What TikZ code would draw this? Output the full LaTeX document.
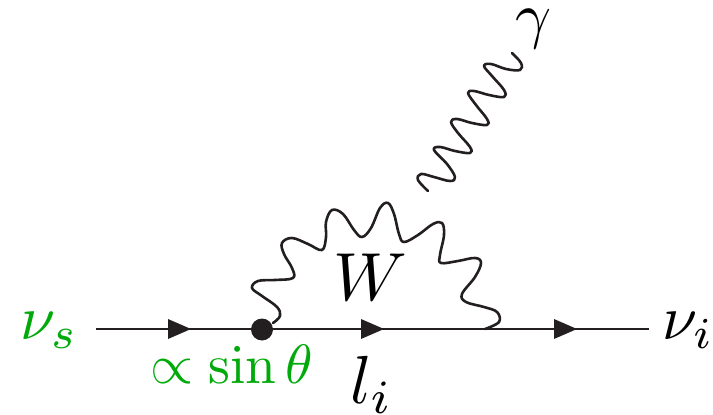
\documentclass[tikz,border=0pt]{standalone}
\usepackage{amsmath}
\definecolor{lblgreen}{RGB}{0,170,10}
\definecolor{ink}{RGB}{35,31,32}
\tikzset{
  fermion/.style={draw=ink,line width=2.6pt},
  arrowmark/.style={fill=ink,draw=none},
  wiggle/.style={draw=ink,line width=2.6pt,line join=round,line cap=round},
  biglabel/.style={inner sep=0pt,outer sep=0pt,scale=6.3},
  greenlabel/.style={biglabel,text=lblgreen},
}
\begin{document}
\begin{tikzpicture}[x=1pt,y=-1pt]
\useasboundingbox (0,0) rectangle (713,415);
\coordinate (start) at (96,329);
\coordinate (stop) at (649,329);
\node[circle,fill=ink,minimum size=22pt,inner sep=0pt] (vertex) at (262,329.5) {};
\coordinate (join) at (485,329);
\draw[fermion] (start) -- (stop);
\foreach \xx/\nm in {168/a,361/b,554/c}{
  \fill[arrowmark] (\xx,319) -- (\xx+23,329) -- (\xx,339) -- cycle;
}
\draw[wiggle] plot[smooth,tension=0.62] coordinates {
 (273,323) (280,316) (277,307) (262,296) (252,288) (258,281) (275,280) (293,278)
 (292,268) (284,254) (282,243) (292,238) (308,244) (322,250)
 (326,237) (326,222) (332,210) (343,214) (354,230) (362,237)
 (371,228) (380,208) (388,203) (394,214) (399,234) (404,242)
 (418,235) (433,224) (442,223) (444,235) (440,255) (441,263)
 (458,261) (475,258) (481,263) (475,277) (462,294)
 (466,302) (484,307) (497,312) (499,322) (485,329)};
\draw[wiggle] plot[smooth,tension=0.62] coordinates {
 (428,191) (418,180) (421,174) (434,177) (450,181) (455,177) (447,164) (434,150)
 (440,147) (455,151) (470,153) (470,147) (458,133) (451,122)
 (457,119) (472,123) (487,125) (487,119) (476,105) (468,93)
 (474,91) (489,95) (504,97) (504,90) (492,76) (484,66)
 (491,64) (506,69) (520,70) (521,63) (512,53)};
\node[greenlabel,anchor=base west] (nus) at (20,339) {$\nu_s$};
\node[biglabel,anchor=base west] (nui) at (662,339) {$\nu_i$};
\node[greenlabel,scale=0.88,anchor=base west] (sin) at (150,383) {$\propto\sin\theta$};
\node[biglabel,scale=1.08,anchor=base west] (li) at (350,403) {$l_i$};
\node[biglabel,scale=1.08,anchor=base west] (w) at (333,300) {$W$};
\node[biglabel,anchor=base west] (g) at (515,36) {$\gamma$};
\end{tikzpicture}
\end{document}
